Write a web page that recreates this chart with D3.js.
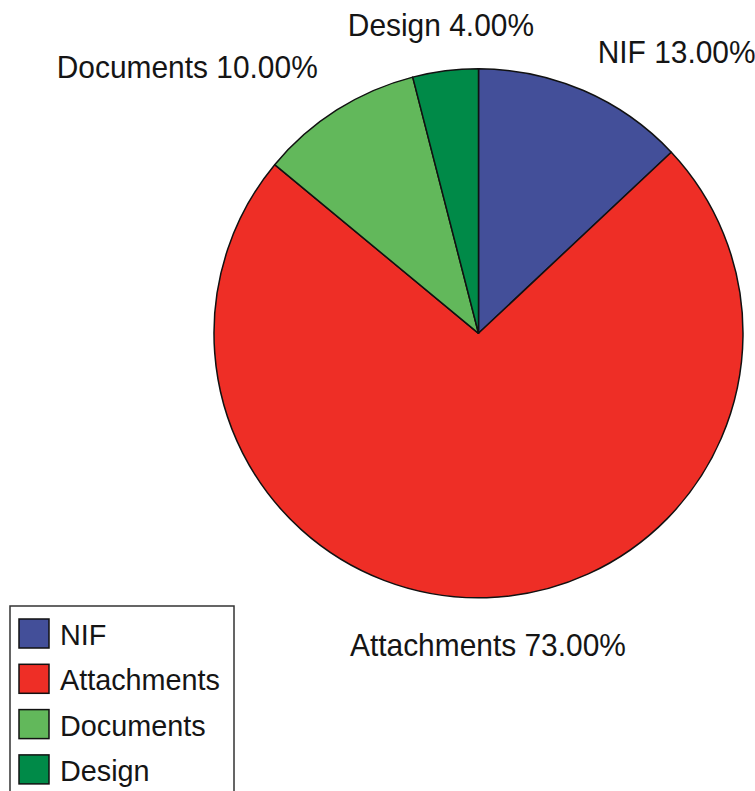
<!DOCTYPE html>
<html>
<head>
<meta charset="utf-8">
<script src="https://cdn.jsdelivr.net/npm/d3@7"></script>
<style>
  html, body { margin: 0; padding: 0; background: #ffffff; }
  svg { display: block; }
  text { font-family: "Liberation Sans", Arial, Helvetica, sans-serif; fill: #151515; }
</style>
</head>
<body>
<svg id="chart" width="755" height="791"></svg>
<script>
const categories = ["NIF", "Attachments", "Documents", "Design"];
const values = [13, 73, 10, 4];
const colors = ["#434F99", "#EE2E26", "#62B85B", "#008A48"];

const svg = d3.select("#chart");
const cx = 478.5, cy = 333.3, r = 264.5, labelR = 300;

const data = categories.map((c, i) => ({ name: c, value: values[i], color: colors[i] }));
const total = d3.sum(values);
const pie = d3.pie().sort(null).value(d => d.value);
const arcs = pie(data);
const arc = d3.arc().innerRadius(0).outerRadius(r);

const g = svg.append("g").attr("transform", `translate(${cx},${cy})`);
g.selectAll("path.slice")
  .data(arcs)
  .enter().append("path")
  .attr("class", "slice")
  .attr("d", arc)
  .attr("fill", d => d.data.color)
  .attr("stroke", "#111")
  .attr("stroke-width", 1.5)
  .attr("stroke-linejoin", "round");

const fmt = d3.format(".2f");
g.selectAll("g.lbl")
  .data(arcs)
  .enter().append("g")
  .attr("class", "lbl")
  .each(function(d) {
    const a = (d.startAngle + d.endAngle) / 2;
    const x = labelR * Math.sin(a);
    const y = -labelR * Math.cos(a);
    const mid = Math.abs(x) < 60;
    const anchor = mid ? "middle" : (x > 0 ? "start" : "end");
    const ty = y > 0 ? y + 23 : y + (mid ? 0 : (x > 0 ? 5 : -2));
    const gg = d3.select(this).attr("transform", `translate(${x},${ty}) scale(0.935,1)`);
    gg.append("text")
      .attr("x", 0).attr("y", 0)
      .attr("text-anchor", anchor)
      .attr("font-size", 32)
      .text(`${d.data.name} ${fmt(d.data.value / total * 100)}%`);
  });

// Legend
const legend = svg.append("g").attr("transform", "translate(10,606)");
legend.append("rect")
  .attr("x", 0).attr("y", 0)
  .attr("width", 224).attr("height", 200)
  .attr("fill", "#fff")
  .attr("stroke", "#333")
  .attr("stroke-width", 1.5);

const items = legend.selectAll("g.item")
  .data(data)
  .enter().append("g")
  .attr("class", "item")
  .attr("transform", (d, i) => `translate(9,${13 + i * 45.3})`);
items.append("rect")
  .attr("width", 30).attr("height", 29)
  .attr("fill", d => d.color)
  .attr("stroke", "#111")
  .attr("stroke-width", 1.5);
items.append("g")
  .attr("transform", "translate(41,26) scale(0.96,1)")
  .append("text")
  .attr("x", 0).attr("y", 0)
  .attr("font-size", 30)
  .text(d => d.name);
</script>
</body>
</html>
